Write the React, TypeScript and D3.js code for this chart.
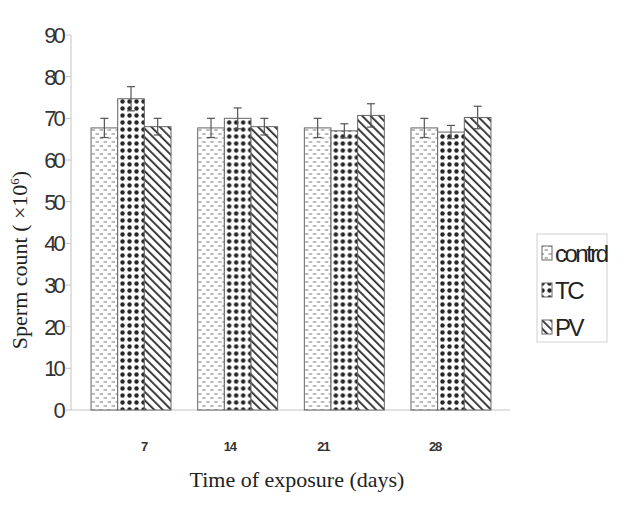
import React from 'react';
import * as d3 from 'd3';

const categories = ['7', '14', '21', '28'];
const seriesNames = ['contrd', 'TC', 'PV'];
const controlValues = [67.7, 67.7, 67.7, 67.7];
const tcValues = [74.7, 70.0, 67.0, 66.7];
const pvValues = [68.0, 68.0, 70.7, 70.2];
const controlErr = [2.3, 2.3, 2.3, 2.3];
const tcErr = [2.9, 2.5, 1.7, 1.6];
const pvErr = [2.0, 2.0, 2.8, 2.7];
const yTicks = [0, 10, 20, 30, 40, 50, 60, 70, 80, 90];

const W = 631;
const H = 509;
const tickDx = [13, -8, -21, -16];

export default function App() {
  const values = [controlValues, tcValues, pvValues];
  const errs = [controlErr, tcErr, pvErr];
  const y = d3.scaleLinear().domain([0, 90]).range([410, 35]);
  const x = d3.scaleBand().domain(categories).range([77.7, 504.3]).paddingInner(0.25).paddingOuter(0.125);
  const xs = d3.scaleBand().domain(seriesNames).range([0, x.bandwidth()]);
  const fills = ['url(#pCtrl)', 'url(#pTC)', 'url(#pPV)'];
  const sans = "'Liberation Sans', Arial, sans-serif";
  const serif = "'Liberation Serif', 'Times New Roman', serif";

  return (
    <svg width={W} height={H} style={{ position: 'absolute', left: 0, top: 0, background: '#fff' }}>
      <defs>
        <pattern id="pCtrl" patternUnits="userSpaceOnUse" width="8" height="8">
          <rect width="8" height="8" fill="#fff" />
          <line x1="0.5" y1="2" x2="4" y2="2" stroke="#777" strokeWidth="1" />
          <line x1="4.5" y1="6" x2="8" y2="6" stroke="#777" strokeWidth="1" />
        </pattern>
        <pattern id="pTC" patternUnits="userSpaceOnUse" width="7" height="7">
          <rect width="7" height="7" fill="#fff" />
          <circle cx="3.5" cy="3.5" r="2.2" fill="#262626" />
        </pattern>
        <pattern id="pPV" patternUnits="userSpaceOnUse" width="6" height="6" patternTransform="rotate(-45)">
          <rect width="6" height="6" fill="#fff" />
          <line x1="0" y1="0" x2="0" y2="6" stroke="#2a2a2a" strokeWidth="3.6" />
        </pattern>
      </defs>

      {/* y axis */}
      <line x1={71} x2={71} y1={y(90)} y2={y(0)} stroke="#c4c4c4" />
      {yTicks.map((t) => (
        <g key={t}>
          <line x1={66} x2={71} y1={y(t)} y2={y(t)} stroke="#c4c4c4" />
          <text x={63} y={y(t)} dy="0.36em" textAnchor="end" fontFamily={sans} fontSize={22} letterSpacing={-2.8} fill="#333">
            {t}
          </text>
        </g>
      ))}
      {/* x axis */}
      <line x1={71} x2={510} y1={y(0)} y2={y(0)} stroke="#c4c4c4" />

      {/* bars */}
      {categories.map((c, ci) => (
        <g key={c} transform={`translate(${x(c)},0)`}>
          {seriesNames.map((s, si) => {
            const v = values[si][ci];
            const e = errs[si][ci];
            const bx = xs(s) as number;
            const cx = bx + xs.bandwidth() / 2;
            return (
              <g key={s}>
                <rect x={bx} y={y(v)} width={xs.bandwidth()} height={y(0) - y(v)} fill={fills[si]} stroke="#666" strokeWidth={1} />
                <line x1={cx} x2={cx} y1={y(v + e)} y2={y(v - e)} stroke="#555" strokeWidth={1.2} />
                <line x1={cx - 4} x2={cx + 4} y1={y(v + e)} y2={y(v + e)} stroke="#555" strokeWidth={1.2} />
                <line x1={cx - 4} x2={cx + 4} y1={y(v - e)} y2={y(v - e)} stroke="#555" strokeWidth={1.2} />
              </g>
            );
          })}
          <text x={x.bandwidth() / 2 + tickDx[ci]} y={446} dy="0.36em" textAnchor="middle" fontFamily={sans} fontWeight="bold" fontSize={13} letterSpacing={-1.2} fill="#333">
            {c}
          </text>
        </g>
      ))}

      {/* axis titles */}
      <text x={297} y={487} textAnchor="middle" fontFamily={serif} fontSize={22} fill="#222">
        Time of exposure (days)
      </text>
      <text transform={`translate(27,260) rotate(-90)`} textAnchor="middle" fontFamily={serif} fontSize={22} fill="#222">
        Sperm count ( ×10<tspan dy="-8" fontSize={13}>6</tspan><tspan dy="8">)</tspan>
      </text>

      {/* legend */}
      <rect x={537} y={234} width={70} height={108} fill="#fff" stroke="#d0d0d0" />
      {seriesNames.map((s, si) => {
        const cy = 253 + si * 37;
        return (
          <g key={s}>
            <rect x={542} y={cy - 7} width={10} height={14} fill={fills[si]} stroke="#666" />
            <text x={555} y={cy} dy="0.36em" fontFamily={sans} fontSize={24} letterSpacing={-2.5} fill="#222">
              {s}
            </text>
          </g>
        );
      })}
    </svg>
  );
}
